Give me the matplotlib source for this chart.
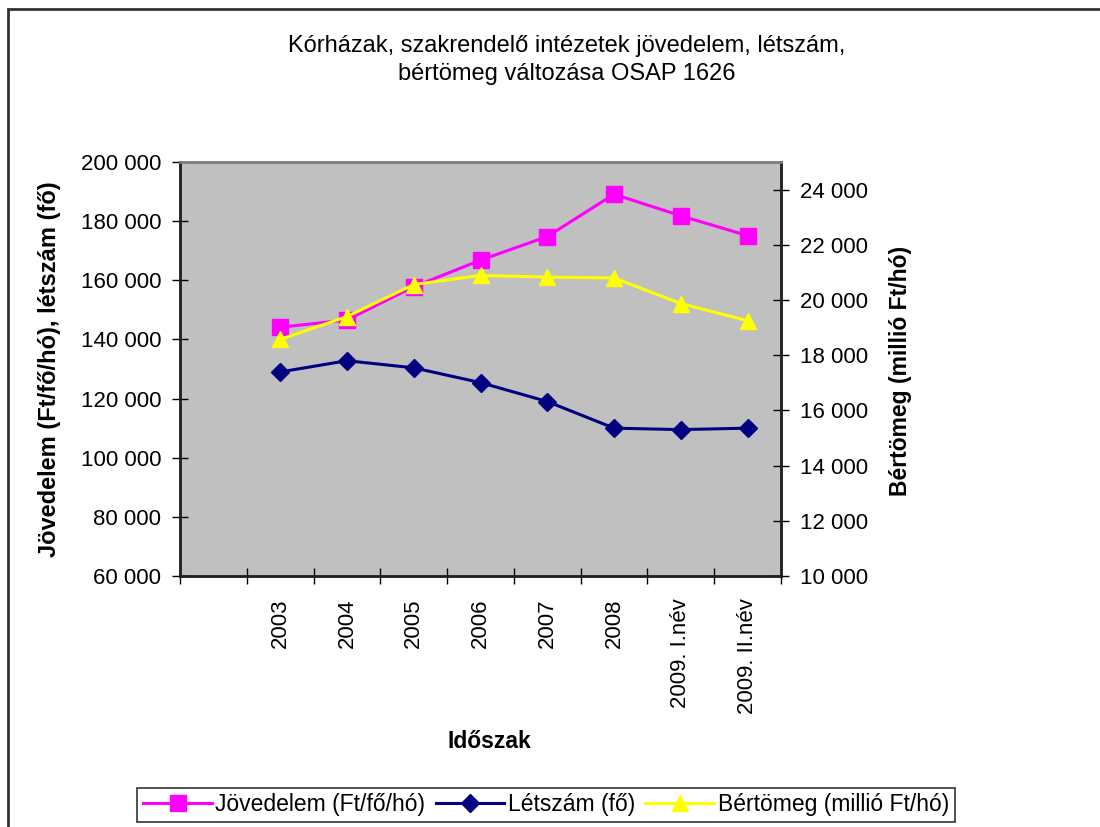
import matplotlib
matplotlib.use("Agg")
import matplotlib.pyplot as plt
import matplotlib.patches as mpatches
from matplotlib.ticker import FuncFormatter, FixedLocator
import numpy as np

plt.rcParams["font.family"] = ["Liberation Sans", "DejaVu Sans"]

# first category is empty in the source chart
categories = ["", "2003", "2004", "2005", "2006", "2007", "2008", "2009. I.név", "2009. II.név"]
jovedelem = [np.nan, 144100, 146600, 157800, 166800, 174800, 189100, 181800, 175100]
letszam = [np.nan, 129000, 132800, 130400, 125400, 119000, 110000, 109500, 110000]
bertomeg = [np.nan, 18570, 19400, 20560, 20890, 20830, 20800, 19870, 19250]

left_ticks = list(range(60000, 200001, 20000))
right_ticks = list(range(10000, 24001, 2000))


def space_thousands(v, pos=None):
	return f"{int(v):,}".replace(",", " ")


W, H = 1100, 827
fig = plt.figure(figsize=(W / 100, H / 100), dpi=100)

# plot area in pixels: x 180..781, y 162..576
ax = fig.add_axes([180 / W, 1 - 576 / H, (781 - 180) / W, (576 - 162) / H])
ax.set_facecolor("#C0C0C0")
ax2 = ax.twinx()

x = np.arange(len(categories))
h1, = ax.plot(x, jovedelem, color="#FF00FF", lw=2.2, marker="s", ms=11, mec="#FF00FF",
	label="Jövedelem (Ft/fő/hó)")
h2, = ax.plot(x, letszam, color="#000080", lw=2.2, marker="D", ms=9.5, mec="#000080",
	label="Létszám (fő)")
h3, = ax2.plot(x, bertomeg, color="#FFFF00", lw=2.2, marker="^", ms=12, mec="#FFFF00",
	label="Bértömeg (millió Ft/hó)")

ax.set_xlim(-0.5, len(categories) - 0.5)
ax.set_ylim(60000, 200000)
ax2.set_ylim(10000, 25000)

ax.yaxis.set_major_locator(FixedLocator(left_ticks))
ax.yaxis.set_major_formatter(FuncFormatter(space_thousands))
ax2.yaxis.set_major_locator(FixedLocator(right_ticks))
ax2.yaxis.set_major_formatter(FuncFormatter(space_thousands))

# category boundaries get tick marks, centers get the labels
ax.set_xticks(np.arange(-0.5, len(categories), 1.0))
ax.set_xticklabels([])
ax.set_xticks(x, minor=True)
ax.set_xticklabels(categories, minor=True, rotation=90, fontsize=16)
ax.tick_params(axis="x", which="minor", length=0, pad=16)
ax.tick_params(axis="x", which="major", direction="inout", length=11, width=1, color="black")
ax.tick_params(axis="y", direction="inout", length=11, width=1, labelsize=16, pad=8)
ax2.tick_params(axis="y", direction="inout", length=11, width=1, labelsize=16, pad=8)

for a in (ax, ax2):
	for side in ("left", "bottom", "right"):
		a.spines[side].set_color("#222222")
		a.spines[side].set_linewidth(1.8)
	a.spines["top"].set_color("#808080")
	a.spines["top"].set_linewidth(1.8)

fig.text(567 / W, 1 - 60 / H, "Kórházak, szakrendelő intézetek jövedelem, létszám,\nbértömeg változása OSAP 1626",
	ha="center", va="center", fontsize=17, linespacing=1.35)
fig.text(50 / W, 1 - 369 / H, "Jövedelem (Ft/fő/hó), létszám (fő)", rotation=90,
	ha="center", va="center", fontsize=17, fontweight="bold")
fig.text(900 / W, 1 - 371 / H, "Bértömeg (millió Ft/hó)", rotation=90,
	ha="center", va="center", fontsize=16.5, fontweight="bold")
fig.text(489 / W, 1 - 742 / H, "Időszak", ha="center", va="center", fontsize=16.5, fontweight="bold")

leg = fig.legend(handles=[h1, h2, h3], loc="center", bbox_to_anchor=(546 / W, 1 - 805 / H),
	ncol=3, fontsize=16.5, frameon=True, fancybox=False, handlelength=3.0, handletextpad=0.15,
	columnspacing=0.45, borderpad=0.25, borderaxespad=0)
leg.get_frame().set_edgecolor("black")
leg.get_frame().set_linewidth(1.2)

# outer chart border (runs off the right and bottom edge)
fig.patches.append(mpatches.Rectangle((8 / W, -0.1), 1.2, 1 - 9 / H + 0.1, transform=fig.transFigure,
	fill=False, edgecolor="#333333", linewidth=2))

fig.savefig("out.png", dpi=100)
